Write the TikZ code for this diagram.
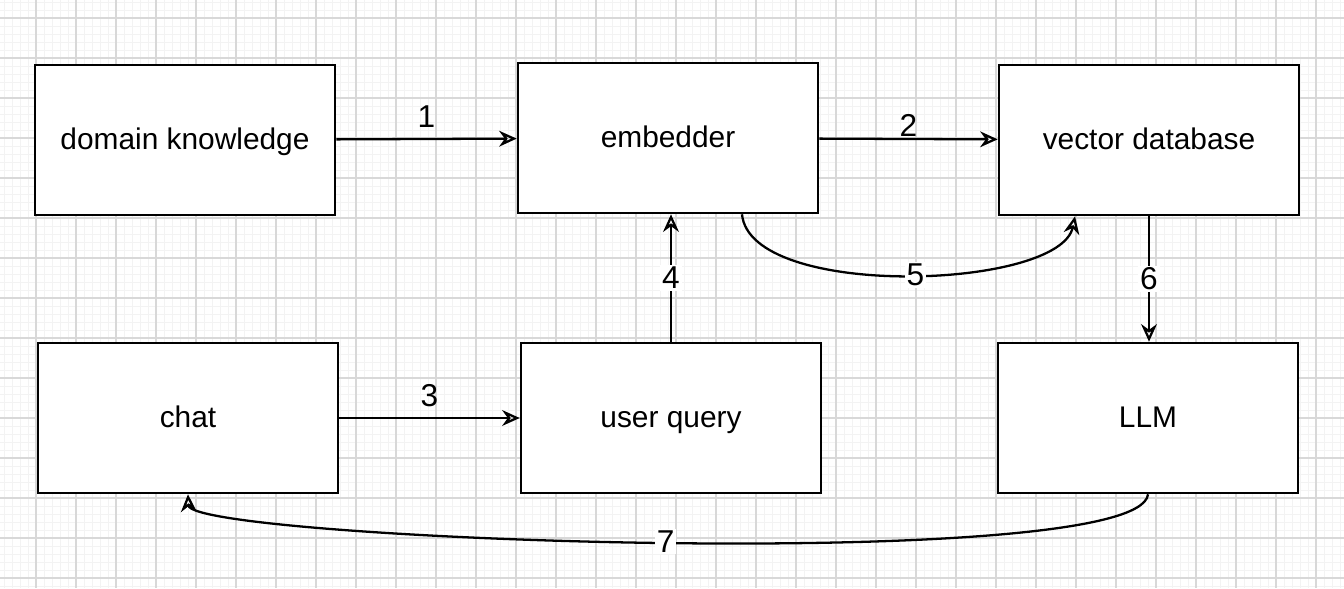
\documentclass[tikz,border=0pt]{standalone}
\usepackage{fontspec}
\setmainfont{Liberation Sans}
\usetikzlibrary{arrows.meta}
\definecolor{gridmajor}{HTML}{D8D8D8}
\definecolor{gridminor}{HTML}{F3F3F3}
\tikzset{
  box/.style={draw, line width=1.5pt, rectangle, align=center, minimum width=6cm, minimum height=3cm, text height=1.15em, text depth=0.1em, font=\fontsize{17}{20}\selectfont},
  flow/.style={line width=1.3pt, -{Stealth[open, length=10pt, width=9pt]}},
  num/.style={font=\fontsize{18}{20}\selectfont, inner sep=1pt},
  onwhite/.style={num, fill=white}
}
\begin{document}
\begin{tikzpicture}[x=0.02cm, y=-0.02cm]
\useasboundingbox (0,0) rectangle (1344,588);
\fill[white] (0,0) rectangle (1344,588);
% grid
\foreach \gx in {4,12,...,1340} \draw[gridminor, line width=0.4pt] (\gx,0) -- (\gx,588);
\foreach \gy in {2,10,...,586} \draw[gridminor, line width=0.4pt] (0,\gy) -- (1344,\gy);
\foreach \gx in {36,76,...,1340} \draw[gridmajor, line width=0.6pt] (\gx,0) -- (\gx,588);
\foreach \gy in {18,58,...,586} \draw[gridmajor, line width=0.6pt] (0,\gy) -- (1344,\gy);
% boxes
\node[box, fill=white] (domain) at (185,140) {domain knowledge};
\node[box, fill=white] (embedder) at (668,138) {embedder};
\node[box, fill=white] (vectordb) at (1149,140) {vector database};
\node[box, fill=white] (chat) at (188,418) {chat};
\node[box, fill=white] (query) at (671,418) {user query};
\node[box, fill=white] (llm) at (1148,418) {LLM};
% connectors
\draw[flow] (domain) -- node[num, above=5pt]{1} (embedder);
\draw[flow] (embedder) -- node[num, above=0pt]{2} (vectordb);
\draw[flow] (chat) -- node[num, above=5pt]{3} (query);
\draw[flow] (query.north) -- node[onwhite]{4} (query.north |- embedder.south);
\draw[flow] ([xshift=74*0.02cm]embedder.south) .. controls (750,300) and (1060,290) .. node[onwhite, pos=0.52]{5} ([xshift=-74*0.02cm]vectordb.south);
\draw[flow] (vectordb.south) -- node[onwhite]{6} (vectordb.south |- llm.north);
\draw[flow] (llm.south) .. controls (1140,575) and (190,540) .. node[onwhite]{7} (chat.south);
\end{tikzpicture}
\end{document}
